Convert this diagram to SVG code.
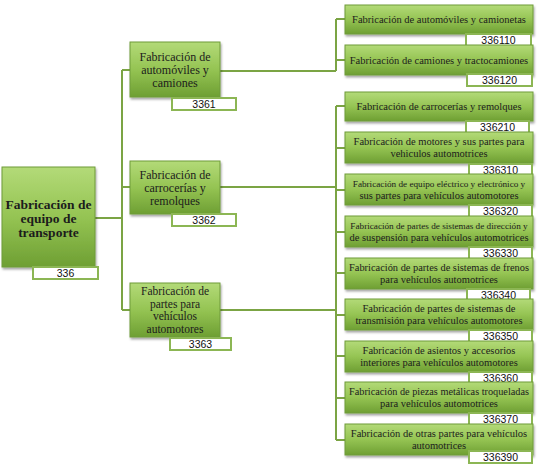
<svg xmlns="http://www.w3.org/2000/svg" width="537" height="469" viewBox="0 0 537 469">
<defs>
<linearGradient id="g" x1="0" y1="0" x2="0" y2="1">
<stop offset="0" stop-color="#b3da78"/>
<stop offset="0.5" stop-color="#95c453"/>
<stop offset="1" stop-color="#6e9f33"/>
</linearGradient>
<filter id="sh" x="-10%" y="-10%" width="125%" height="130%">
<feDropShadow dx="1" dy="2" stdDeviation="1.2" flood-color="#000" flood-opacity="0.35"/>
</filter>
</defs>
<style>
.box{fill:url(#g);stroke:#6f9b3a;stroke-width:1;filter:url(#sh)}
.lbl{fill:#fff;stroke:#8cb654;stroke-width:2}
.t{font-family:'Liberation Serif','DejaVu Serif',serif;fill:#1c1c1c;text-anchor:middle}
.tr{font-size:10.5px}
.ts{font-size:9.2px}
.tm{font-size:12px}
.tm2{font-size:11.5px}
.tb{font-size:13.5px;font-weight:bold}
.n{font-family:'Liberation Sans','DejaVu Sans',sans-serif;font-size:10.5px;fill:#111;text-anchor:middle}
.c{fill:none;stroke:#7ba444;stroke-width:2}
</style>
<g id="connectors">
<path class="c" d="M95 218H122M122 70V310M122 70H130M122 187H130M122 310H130"/>
<path class="c" d="M220 71H336M336 19V71M336 19H345M336 60H345"/>
<path class="c" d="M220 187H336M220 310H336M336 106V440M336 106H345M336 148H345M336 190H345M336 232H345M336 273H345M336 315H345M336 356H345M336 398H345M336 440H345"/>
</g>
<g id="n336">
<rect class="box" x="2" y="167" width="93" height="100"/>
<text class="t tb" x="48.5" y="209">Fabricación de</text>
<text class="t tb" x="48.5" y="223">equipo de</text>
<text class="t tb" x="48.5" y="237">transporte</text>
<rect class="lbl" x="33" y="267" width="65" height="12"/>
<text class="n" x="65.5" y="277">336</text>
</g>
<g id="n3361">
<rect class="box" x="130" y="42" width="90" height="55"/>
<text class="t tm" x="175" y="61">Fabricación de</text>
<text class="t tm" x="175" y="74">automóviles y</text>
<text class="t tm" x="175" y="87">camiones</text>
<rect class="lbl" x="172" y="98" width="64" height="12"/>
<text class="n" x="204" y="108">3361</text>
</g>
<g id="n3362">
<rect class="box" x="130" y="161" width="90" height="53"/>
<text class="t tm" x="175" y="179">Fabricación de</text>
<text class="t tm" x="175" y="192">carrocerías y</text>
<text class="t tm" x="175" y="205">remolques</text>
<rect class="lbl" x="172" y="214" width="64" height="12"/>
<text class="n" x="204" y="224">3362</text>
</g>
<g id="n3363">
<rect class="box" x="130" y="283" width="90" height="54"/>
<text class="t tm2" x="175" y="295">Fabricación de</text>
<text class="t tm2" x="175" y="307.5">partes para</text>
<text class="t tm2" x="175" y="320">vehículos</text>
<text class="t tm2" x="175" y="332.5">automotores</text>
<rect class="lbl" x="170" y="338" width="61" height="12"/>
<text class="n" x="200.5" y="348">3363</text>
</g>
<g id="n336110">
<rect class="box" x="345" y="5" width="188" height="29"/>
<text class="t tr" x="439" y="23">Fabricación de automóviles y camionetas</text>
<rect class="lbl" x="466" y="34" width="65" height="12"/>
<text class="n" x="498.5" y="44">336110</text>
</g>
<g id="n336120">
<rect class="box" x="345" y="45" width="188" height="30"/>
<text class="t tr" x="439" y="64">Fabricación de camiones y tractocamiones</text>
<rect class="lbl" x="467" y="74" width="65" height="12"/>
<text class="n" x="499.5" y="84">336120</text>
</g>
<g id="n336210">
<rect class="box" x="345" y="92" width="188" height="29"/>
<text class="t tr" x="439" y="110">Fabricación de carrocerías y remolques</text>
<rect class="lbl" x="466" y="121" width="63" height="12"/>
<text class="n" x="497.5" y="131">336210</text>
</g>
<g id="n336310">
<rect class="box" x="345" y="132" width="188" height="31"/>
<text class="t tr" x="439" y="145">Fabricación de motores y sus partes para</text>
<text class="t tr" x="439" y="157">vehiculos automotrices</text>
<rect class="lbl" x="469" y="164" width="63" height="12"/>
<text class="n" x="500.5" y="174">336310</text>
</g>
<g id="n336320">
<rect class="box" x="345" y="174" width="188" height="31"/>
<text class="t ts" x="439" y="187">Fabricación de equipo eléctrico y electrónico y</text>
<text class="t tr" x="439" y="199">sus partes para vehículos automotores</text>
<rect class="lbl" x="469" y="205" width="63" height="12"/>
<text class="n" x="500.5" y="215">336320</text>
</g>
<g id="n336330">
<rect class="box" x="345" y="216" width="188" height="31"/>
<text class="t ts" x="439" y="229">Fabricación de partes de sistemas de dirección  y</text>
<text class="t tr" x="439" y="241">de suspensión para vehículos  automotrices</text>
<rect class="lbl" x="469" y="247" width="63" height="12"/>
<text class="n" x="500.5" y="257">336330</text>
</g>
<g id="n336340">
<rect class="box" x="345" y="258" width="188" height="31"/>
<text class="t tr" x="439" y="271" textLength="180" lengthAdjust="spacingAndGlyphs">Fabricación de partes de sistemas de frenos</text>
<text class="t tr" x="439" y="283">para vehículos automotrices</text>
<rect class="lbl" x="467" y="289" width="63" height="12"/>
<text class="n" x="498.5" y="299">336340</text>
</g>
<g id="n336350">
<rect class="box" x="345" y="299" width="188" height="31"/>
<text class="t tr" x="439" y="312">Fabricación de partes de sistemas de</text>
<text class="t tr" x="439" y="324">transmisión para vehículos automotores</text>
<rect class="lbl" x="469" y="330" width="63" height="12"/>
<text class="n" x="500.5" y="340">336350</text>
</g>
<g id="n336360">
<rect class="box" x="345" y="341" width="188" height="31"/>
<text class="t tr" x="439" y="354">Fabricación de asientos y accesorios</text>
<text class="t tr" x="439" y="366">interiores para vehículos automotores</text>
<rect class="lbl" x="469" y="372" width="63" height="12"/>
<text class="n" x="500.5" y="382">336360</text>
</g>
<g id="n336370">
<rect class="box" x="345" y="382" width="188" height="31"/>
<text class="t tr" x="439" y="395" textLength="180" lengthAdjust="spacingAndGlyphs">Fabricación de piezas metálicas troqueladas</text>
<text class="t tr" x="439" y="407">para vehículos automotrices</text>
<rect class="lbl" x="469" y="413" width="63" height="12"/>
<text class="n" x="500.5" y="423">336370</text>
</g>
<g id="n336390">
<rect class="box" x="345" y="424" width="188" height="31"/>
<text class="t tr" x="439" y="437">Fabricación de otras partes para vehículos</text>
<text class="t tr" x="439" y="449">automotrices</text>
<rect class="lbl" x="469" y="451" width="63" height="12"/>
<text class="n" x="500.5" y="461">336390</text>
</g>
</svg>
